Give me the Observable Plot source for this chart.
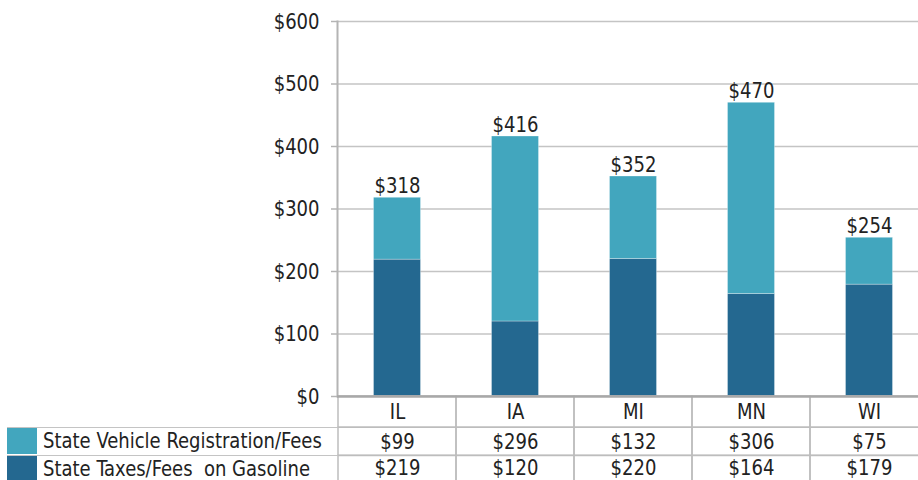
<!DOCTYPE html>
<html>
<head>
<meta charset="utf-8">
<script src="https://cdn.jsdelivr.net/npm/d3@7"></script>
<script src="https://cdn.jsdelivr.net/npm/@observablehq/plot@0.6"></script>
<style>
  html, body { margin: 0; padding: 0; background: #fff; overflow: hidden; }
  #wrap { position: relative; width: 918px; height: 480px; }
  .font { font-family: "Liberation Sans Narrow", "Arial Narrow", "DejaVu Sans Condensed", "Roboto Condensed", sans-serif; }
  .lg-row { position: absolute; left: 7px; width: 330px; height: 28px; border-top: 1.5px solid #c4c4c4; box-sizing: border-box; }
  .lg-sw { position: absolute; left: 0; top: 0; width: 30px; bottom: 1px; }
  .lg-tx { position: absolute; left: 36px; top: -1px; line-height: 27px; font-size: 22px; color: #222; white-space: nowrap; transform: scaleX(0.91); transform-origin: left center; }
</style>
</head>
<body>
<div id="wrap" class="font"></div>
<script>
// ---- data ----
const states = ["IL", "IA", "MI", "MN", "WI"];
const registrationFees = [99, 296, 132, 306, 75];
const gasolineTaxes = [219, 120, 220, 164, 179];
const seriesNames = ["State Vehicle Registration/Fees", "State Taxes/Fees on Gasoline"];
const seriesColors = ["#42a6be", "#246890"];
const yTicks = [0, 100, 200, 300, 400, 500, 600];

// ---- derived tables ----
const totals = states.map((s, i) => registrationFees[i] + gasolineTaxes[i]);
const stackData = [];
states.forEach((s, i) => {
  stackData.push({state: s, series: seriesNames[1], value: gasolineTaxes[i]});
  stackData.push({state: s, series: seriesNames[0], value: registrationFees[i]});
});
// table rows below the axis (in y units, below zero)
const tableRows = [
  {key: "header", y1: 0, y2: -50},
  {key: seriesNames[0], y1: -50, y2: -95},
  {key: seriesNames[1], y1: -95, y2: -140}
];
const tableCells = [];
states.forEach((s, i) => {
  tableRows.forEach(r => {
    const label = r.key === "header" ? s
      : r.key === seriesNames[0] ? `$${registrationFees[i]}` : `$${gasolineTaxes[i]}`;
    tableCells.push({state: s, y1: r.y1, y2: r.y2, ymid: (r.y1 + r.y2) / 2 + (r.key === seriesNames[1] ? 3 : 0), label});
  });
});

const fontFamily = '"Liberation Sans Narrow", "Arial Narrow", "DejaVu Sans Condensed", "Roboto Condensed", sans-serif';

const chart = Plot.plot({
  width: 918,
  height: 480,
  marginTop: 21,
  marginBottom: 84,
  marginLeft: 337,
  marginRight: 0,
  style: {fontFamily, fontSize: "22px", color: "#222", background: "transparent", overflow: "visible"},
  x: {domain: states, range: [337, 929.5], padding: 0, axis: null},
  y: {domain: [0, 600], axis: null},
  color: {domain: seriesNames, range: seriesColors},
  marks: [
    Plot.ruleY(yTicks.filter(d => d > 0), {stroke: "#c4c4c4", strokeWidth: 1.5}),
    Plot.axisY({ticks: yTicks, tickSize: 6, tickPadding: 12, tickFormat: d => `$${d}`, stroke: "#b4b4b4", strokeWidth: 1.5, fill: "#222", fontSize: 22, label: null}),
    Plot.barY(stackData, {x: "state", y: "value", fill: "series", insetLeft: 35.5, insetRight: 35.5, stroke: "white", strokeWidth: 0.6, strokeOpacity: 0.5}),
    Plot.barY(tableCells, {x: "state", y1: "y1", y2: "y2", fill: "none", stroke: "#bdbdbd", strokeWidth: 1.5}),
    Plot.frame({anchor: "left", stroke: "#b4b4b4", strokeWidth: 2}),
    Plot.ruleY([0], {stroke: "#a8a8a8", strokeWidth: 2.5}),
    Plot.text(states, {x: d => d, y: (d, i) => totals[i], text: (d, i) => `$${totals[i]}`, lineAnchor: "bottom", dy: -5, fontSize: 22, fill: "#222"}),
    Plot.text(tableCells, {x: "state", y: "ymid", text: "label", fontSize: 22, fill: "#222"})
  ]
});
chart.style.position = "absolute";
chart.style.left = "0";
chart.style.top = "0";
const wrap = document.getElementById("wrap");
wrap.appendChild(chart);

// condense glyphs horizontally to mimic a narrow typeface
chart.querySelectorAll("text").forEach(t => {
  const len = t.getComputedTextLength();
  if (len > 0) {
    t.setAttribute("textLength", (len * 0.91).toFixed(2));
    t.setAttribute("lengthAdjust", "spacingAndGlyphs");
  }
});

// legend column of the data table (left of the chart)
seriesNames.forEach((name, i) => {
  const row = document.createElement("div");
  row.className = "lg-row";
  row.style.top = (427 + i * 28) + "px";
  const sw = document.createElement("div");
  sw.className = "lg-sw";
  sw.style.background = seriesColors[i];
  const tx = document.createElement("div");
  tx.className = "lg-tx";
  tx.textContent = name.replace("Fees on", "Fees\u00a0 on");
  row.appendChild(sw);
  row.appendChild(tx);
  wrap.appendChild(row);
});
</script>
</body>
</html>
